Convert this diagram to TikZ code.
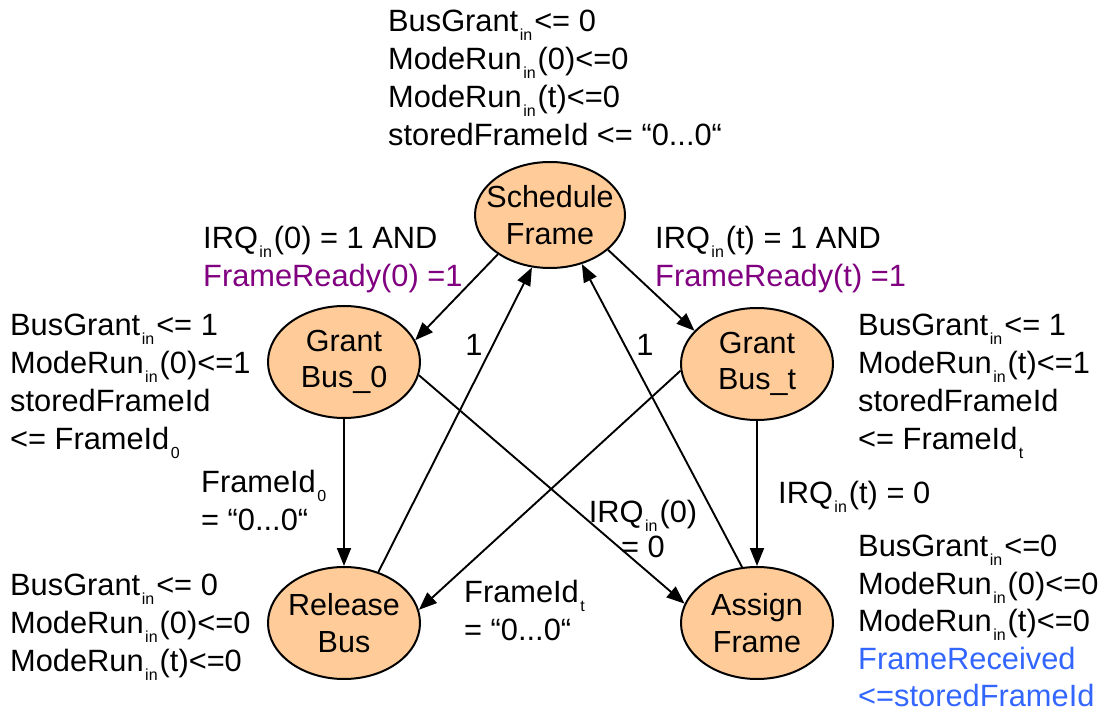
\documentclass[tikz,border=0pt]{standalone}
\usepackage{fontspec}
\setmainfont{Liberation Sans}
\usetikzlibrary{shapes.geometric,arrows.meta}
\definecolor{peach}{HTML}{FFCC99}
\definecolor{condpurple}{HTML}{800080}
\definecolor{actblue}{HTML}{3366FF}
\newcommand\subs[1]{\hspace{1.5pt}\raisebox{-9pt}{\fontsize{16}{16}\selectfont #1}\hspace{2pt}}
\begin{document}
\begin{tikzpicture}[x=1pt,y=-1pt,
  state/.style={ellipse, draw, line width=2pt, fill=peach, minimum width=152pt, minimum height=112pt, inner sep=0pt},
  stlabel/.style={inner sep=0pt, align=center, font=\fontsize{30.5}{36.5}\selectfont},
  txt/.style={anchor=north west, inner sep=0pt, align=left, font=\fontsize{30.8}{38}\selectfont},
  ctxt/.style={anchor=north, inner sep=0pt, align=center, font=\fontsize{30.8}{35}\selectfont},
  edge/.style={line width=1.9pt, -{Triangle[length=18pt,width=14pt]}}]
\useasboundingbox (0,0) rectangle (1109,711);

% states
\node[state, minimum width=150pt, minimum height=106pt] (sf) at (550,215) {};
\node[stlabel] (sfl) at (sf.center) {Schedule\\Frame};
\node[state] (gb0) at (344,362) {};
\node[stlabel] (gb0l) at (gb0.center) {Grant\\Bus\_0};
\node[state] (gbt) at (757,364) {};
\node[stlabel] (gbtl) at (gbt.center) {Grant\\Bus\_t};
\node[state] (rb) at (344,623) {};
\node[stlabel] (rbl) at (rb.center) {Release\\Bus};
\node[state] (af) at (757,623) {};
\node[stlabel] (afl) at (af.center) {Assign\\Frame};

% transitions
\draw[edge] (sf.217) -- (gb0.17);
\draw[edge] (rb.56) -- (sf.251);
\draw[edge] (sf.329) -- (gbt.152);
\draw[edge] (af.105) -- (sf.303);
\draw[edge] (gb0) -- (rb);
\draw[edge] (gb0.350) -- (af.165);
\draw[edge] (gbt.185) -- (rb.10);
\draw[edge] (gbt) -- (af);

% state actions
\node[txt] (topact) at (388,10) {BusGrant\subs{in}<= 0\\ModeRun\subs{in}(0)<=0\\ModeRun\subs{in}(t)<=0\\storedFrameId <= “0...0“};
\node[txt] (gb0act) at (10,314) {BusGrant\subs{in}<= 1\\ModeRun\subs{in}(0)<=1\\storedFrameId\\<= FrameId\subs{0}};
\node[txt] (gbtact) at (858,314) {BusGrant\subs{in}<= 1\\ModeRun\subs{in}(t)<=1\\storedFrameId\\<= FrameId\subs{t}};
\node[txt] (rbact) at (10,574) {BusGrant\subs{in}<= 0\\ModeRun\subs{in}(0)<=0\\ModeRun\subs{in}(t)<=0};
\node[txt, font=\fontsize{30.8}{37.5}\selectfont] (afact) at (858,535) {BusGrant\subs{in}<=0\\ModeRun\subs{in}(0)<=0\\ModeRun\subs{in}(t)<=0\\{\color{actblue}FrameReceived}\\{\color{actblue}<=storedFrameId}};

% transition conditions
\node[txt] (c0) at (203,226) {IRQ\subs{in}(0) = 1 AND\\{\color{condpurple}FrameReady(0) =1}};
\node[txt] (ct) at (655,226) {IRQ\subs{in}(t) = 1 AND\\{\color{condpurple}FrameReady(t) =1}};
\node[txt] (cf0) at (201,470) {FrameId\subs{0}\\= “0...0“};
\node[txt] (cft) at (464,580) {FrameId\subs{t}\\= “0...0“};
\node[ctxt] (ci0) at (643,500) {IRQ\subs{in}(0)\\= 0};
\node[txt] (cit) at (778,481) {IRQ\subs{in}(t) = 0};
\node[anchor=base, inner sep=0pt, font=\fontsize{30.8}{36}\selectfont] (one0) at (474,356) {1};
\node[anchor=base, inner sep=0pt, font=\fontsize{30.8}{36}\selectfont] (onet) at (645,356) {1};
\end{tikzpicture}
\end{document}
